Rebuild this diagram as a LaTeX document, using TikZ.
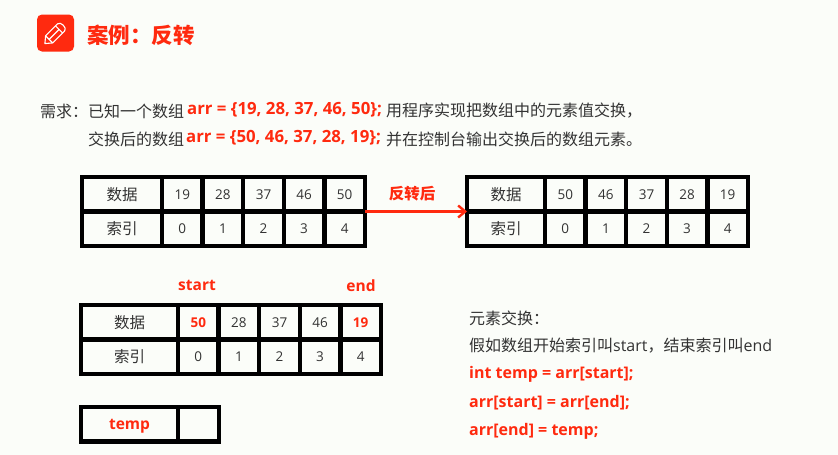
\documentclass[tikz,border=0pt]{standalone}
\usepackage{fontspec}
\setmainfont{Open Sans}
\newfontfamily\cjk{Noto Sans CJK SC}
\usetikzlibrary{positioning,arrows.meta}
\definecolor{hotred}{HTML}{FF2A0F}
\definecolor{paper}{HTML}{FBFDF9}
\definecolor{ink}{HTML}{333333}
\newcommand{\hot}[1]{\textcolor{hotred}{\bfseries #1}}
\newcommand{\arrtable}[5]{%
  \node[headcell, minimum width=#4, anchor=north west] (#1d0) at (#2,#3) {数据};
  \node[headcell, minimum width=#4, below=0pt of #1d0] (#1i0) {索引};
  \foreach \v [count=\i, evaluate=\i as \p using int(\i-1)] in {#5} {
    \node[numcell, right=0pt of #1d\p] (#1d\i) {\v};
    \node[numcell, right=0pt of #1i\p] (#1i\i) {\p};
  }
}
\begin{document}
\begin{tikzpicture}[
      x=1pt, y=-1pt,
      cell/.style = {draw, line width=4.4pt, outer sep=0pt, inner sep=0pt, minimum height=34.5pt, fill=paper, text=ink},
      headcell/.style = {cell, font=\cjk\fontsize{15.5}{18}\selectfont},
      numcell/.style = {cell, minimum width=40.6pt, font=\fontsize{13.5}{16}\selectfont},
      plainline/.style = {anchor=west, inner sep=0pt, text=ink, font=\cjk\fontsize{16}{19}\selectfont},
      codeline/.style = {anchor=west, inner sep=0pt, text=hotred, font=\bfseries\fontsize{16}{19}\selectfont},
      tag/.style = {text=hotred, inner sep=0pt, font=\bfseries\fontsize{15.5}{18}\selectfont},
      revarrow/.style = {-{Straight Barb[length=7pt,width=12pt,line width=2.4pt]}, hotred, line width=2.4pt}
      ]
      \fill[paper] (0,0) rectangle (838,455);
      \useasboundingbox (0,0) rectangle (838,455);

      % title
      \node[fill=hotred, rounded corners=5pt, minimum size=37pt, inner sep=0pt] (icon) at (55.5,33) {};
      \begin{scope}[shift={(icon.center)}, rotate=45, white, line width=1.1pt, line join=round]
        \draw (-9,-5) -- (8,-5) .. controls (12,-5) and (12,5) .. (8,5) -- (-9,5) -- (-15,0) -- cycle;
        \draw (-9,-5) -- (-9,5) (5,-5) -- (5,5);
        \draw (-9,0) -- (5,0);
      \end{scope}
      \node[anchor=west, inner sep=0pt, text=hotred, font=\cjk\bfseries\fontsize{21.5}{25}\selectfont] (title) at (87,35) {案例^^^^ff1a反转};

      % task text
      \node[plainline] (ask) at (40,111) {需求^^^^ff1a};
      \node[plainline] (ask1) at (88,111) {已知一个数组};
      \node[codeline, font=\bfseries\fontsize{16.8}{19}\selectfont] (arr1) at (187,110) {arr = \{19, 28, 37, 46, 50\};};
      \node[plainline] (rest1) at (386,111) {用程序实现把数组中的元素值交换^^^^ff0c};
      \node[plainline] (ask2) at (88,139) {交换后的数组};
      \node[codeline, font=\bfseries\fontsize{16.8}{19}\selectfont] (arr2) at (186,138) {arr = \{50, 46, 37, 28, 19\};};
      \node[plainline] (rest2) at (386,139) {并在控制台输出交换后的数组元素。};

      % tables
      \arrtable{src}{82}{177}{80pt}{19,28,37,46,50}
      \arrtable{dst}{467}{177}{78pt}{50,46,37,28,19}
      \arrtable{swp}{81}{305}{97pt}{\hot{50},28,37,46,\hot{19}}

      \draw[revarrow] (srcd5.south east) -- (dstd0.south west);
      \node[text=hotred, inner sep=0pt, font=\cjk\bfseries\fontsize{15.5}{18}\selectfont] (turned) at (412,194) {反转后};

      \node[tag] (start) at (197,285.5) {start};
      \node[tag] (end) at (361,285.5) {end};

      \node[cell, minimum width=97pt, anchor=north west, text=hotred, text height=12pt, text depth=1pt, font=\bfseries\fontsize{15.5}{18}\selectfont] (temp) at (81,407) {temp};
      \node[cell, minimum width=41pt, right=0pt of temp] (tempval) {};

      % swap text
      \node[plainline] (swap) at (469,318) {元素交换^^^^ff1a};
      \node[plainline] (names) at (469,346) {假如数组开始索引叫{\fontspec{Open Sans}start}^^^^ff0c结束索引叫{\fontspec{Open Sans}end}};
      \node[codeline] (line1) at (469,374) {int temp = arr[start];};
      \node[codeline] (line2) at (469,403) {arr[start] = arr[end];};
      \node[codeline] (line3) at (469,431) {arr[end] = temp;};
    \end{tikzpicture}
\end{document}
